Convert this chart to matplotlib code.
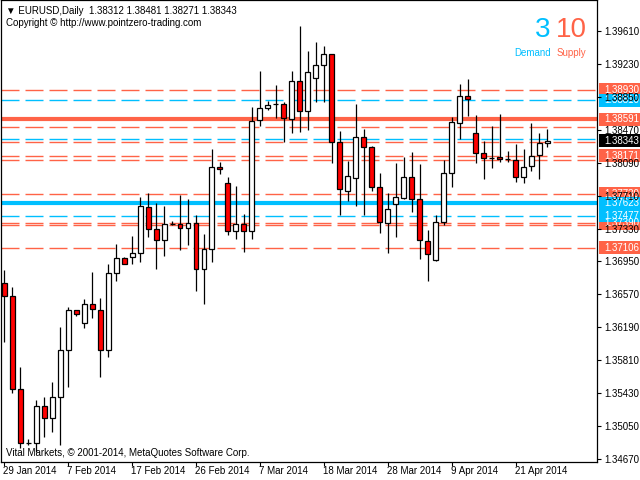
import matplotlib
matplotlib.use("Agg")
import matplotlib.pyplot as plt
from matplotlib.patches import Rectangle

plt.rcParams['font.family'] = ['Liberation Sans', 'DejaVu Sans']
plt.rcParams['lines.scale_dashes'] = False

# daily bars EURUSD, 29 Jan 2014 .. 25 Apr 2014
opens = [1.36698, 1.36555, 1.35475, 1.34851, 1.34851, 1.35278, 1.35140, 1.35382, 1.35925, 1.36387,
         1.36237, 1.36456, 1.36387, 1.35925, 1.36814, 1.36987, 1.37005, 1.37044, 1.37575, 1.37321,
         1.37195, 1.37379, 1.37379, 1.37333, 1.37391, 1.36860, 1.37091, 1.38037, 1.37852, 1.37302,
         1.37379, 1.37302, 1.38580, 1.38718, 1.38764, 1.38764, 1.38591, 1.39030, 1.38683, 1.39064,
         1.39214, 1.39341, 1.38326, 1.37767, 1.37910, 1.38383, 1.38268, 1.37806, 1.37400, 1.37610,
         1.37686, 1.37922, 1.37668, 1.37190, 1.36967, 1.37409, 1.37968, 1.38545, 1.38857, 1.38430,
         1.38199, 1.38148, 1.38152, 1.38129, 1.38118, 1.37922, 1.38049, 1.38176, 1.38312]
highs = [1.36852, 1.36652, 1.35729, 1.34905, 1.35351, 1.35382, 1.35556, 1.36190, 1.36421, 1.36395,
         1.36514, 1.36829, 1.36525, 1.36918, 1.37148, 1.36998, 1.37244, 1.37698, 1.37737, 1.37622,
         1.37587, 1.37414, 1.37714, 1.37668, 1.37487, 1.37267, 1.38245, 1.38102, 1.37922, 1.37821,
         1.37495, 1.38730, 1.39149, 1.38802, 1.38987, 1.38787, 1.39149, 1.39668, 1.39379, 1.39480,
         1.39434, 1.39341, 1.38456, 1.38113, 1.38764, 1.38476, 1.38283, 1.37968, 1.37737, 1.38083,
         1.38152, 1.38210, 1.38072, 1.37313, 1.37487, 1.38121, 1.38621, 1.38999, 1.39056, 1.38641,
         1.38341, 1.38510, 1.38649, 1.38225, 1.38306, 1.38245, 1.38545, 1.38436, 1.38481]
lows = [1.36024, 1.35429, 1.34794, 1.34832, 1.34751, 1.34928, 1.34985, 1.34832, 1.35505, 1.36324,
        1.36179, 1.36294, 1.35620, 1.35851, 1.36728, 1.36918, 1.36918, 1.36941, 1.37236, 1.36860,
        1.37017, 1.37368, 1.37079, 1.37140, 1.36609, 1.36456, 1.36941, 1.37963, 1.37256, 1.37206,
        1.37063, 1.37206, 1.38517, 1.38698, 1.38610, 1.38333, 1.38430, 1.38448, 1.38468, 1.38787,
        1.38787, 1.38090, 1.37487, 1.37652, 1.37594, 1.37487, 1.37760, 1.37282, 1.37051, 1.37236,
        1.37668, 1.37525, 1.36982, 1.36728, 1.36959, 1.37371, 1.37806, 1.38360, 1.38633, 1.38083,
        1.37905, 1.38032, 1.38102, 1.38098, 1.37871, 1.37852, 1.37998, 1.37905, 1.38271]
closes = [1.36555, 1.35475, 1.34858, 1.34851, 1.35285, 1.35140, 1.35382, 1.35925, 1.36387, 1.36340,
          1.36456, 1.36398, 1.35925, 1.36814, 1.36987, 1.36918, 1.37044, 1.37587, 1.37321, 1.37195,
          1.37379, 1.37379, 1.37333, 1.37391, 1.36860, 1.37091, 1.38037, 1.38014, 1.37302, 1.37379,
          1.37302, 1.38571, 1.38718, 1.38756, 1.38764, 1.38603, 1.39030, 1.38683, 1.39134, 1.39214,
          1.39341, 1.38326, 1.37783, 1.37933, 1.38383, 1.38268, 1.37813, 1.37409, 1.37552, 1.37691,
          1.37922, 1.37668, 1.37198, 1.37033, 1.37409, 1.37968, 1.38556, 1.38857, 1.38822, 1.38199,
          1.38144, 1.38148, 1.38129, 1.38129, 1.37922, 1.38044, 1.38164, 1.38314, 1.38343]

date_ticks = [0, 8, 16, 24, 32, 40, 48, 56, 64]
date_labels = ['29 Jan 2014', '7 Feb 2014', '17 Feb 2014', '26 Feb 2014', '7 Mar 2014',
               '18 Mar 2014', '28 Mar 2014', '9 Apr 2014', '21 Apr 2014']
price_ticks = [1.39610, 1.39230, 1.38850, 1.38470, 1.38090, 1.37710, 1.37330,
               1.36950, 1.36570, 1.36190, 1.35810, 1.35430, 1.35050, 1.34670]

# supply / demand zones
supply_dashed = [1.38930, 1.38505, 1.38324, 1.38171, 1.38116, 1.37730, 1.37390, 1.37370, 1.37106]
supply_strong = [1.38591]
demand_dashed = [1.38810, 1.38367, 1.37477]
demand_strong = [1.37623]
supply_labels = [1.38930, 1.38591, 1.38171, 1.37730, 1.37390, 1.37106]
demand_labels = [1.38810, 1.37623, 1.37477]
last_price = 1.38343

RED = '#FF6347'
BLUE = '#00BFFF'
px = 0.00011542  # price per pixel

fig = plt.figure(figsize=(6.4, 4.8), dpi=100)
ax = fig.add_axes([1 / 640, 18 / 480, 596 / 640, 462 / 480])
ax.set_xlim(-0.41, 74.2)
ax.set_ylim(1.34636, 1.39968)

for p in supply_dashed:
    ax.axhline(p, color=RED, lw=1.0, dashes=(12.96, 4.32), zorder=1)
for p in demand_dashed:
    ax.axhline(p, color=BLUE, lw=1.0, dashes=(12.96, 4.32), zorder=1)
for p in supply_strong:
    ax.axhline(p, color=RED, lw=3.0, zorder=1)
for p in demand_strong:
    ax.axhline(p, color=BLUE, lw=3.0, zorder=1)

# candles
for i in range(len(opens)):
    o, h, l, c = opens[i], highs[i], lows[i], closes[i]
    ax.vlines(i, l, h, color='black', lw=0.9, zorder=2)
    fc = 'white' if c >= o else '#FF0000'
    ax.bar(i, abs(c - o), bottom=min(o, c), width=0.62, color=fc,
           edgecolor='black', linewidth=0.9, zorder=3)

for s in ax.spines.values():
    s.set_linewidth(0.9)
    s.set_color('black')

ax.yaxis.tick_right()
ax.set_yticks(price_ticks)
ax.set_yticklabels(['%.5f' % t for t in price_ticks])
ax.tick_params(axis='y', direction='out', length=3, width=0.8, labelsize=7, pad=2)
ax.yaxis.set_zorder(6)

ax.set_xticks(date_ticks)
ax.set_xticklabels([])
ax.tick_params(axis='x', direction='out', length=3, width=0.8)
for t, lab in zip(date_ticks, date_labels):
    ax.annotate(lab, xy=(t, 0), xycoords=ax.get_xaxis_transform(),
                xytext=(-1, -9), textcoords='offset pixels',
                ha='left', va='center', fontsize=7, annotation_clip=False)

# price labels on the right scale
def price_box(p, color, text):
    ax.add_patch(Rectangle((1.0035, p - 6.5 * px), 0.07, 13 * px,
                           transform=ax.get_yaxis_transform(), facecolor=color,
                           edgecolor='none', clip_on=False, zorder=4))
    ax.annotate(text, xy=(1, p), xycoords=ax.get_yaxis_transform(),
                xytext=(7, 0), textcoords='offset pixels', ha='left', va='center',
                color='white', fontsize=7, zorder=5, annotation_clip=False)

for p in supply_labels:
    price_box(p, RED, '%.5f' % p)
for p in demand_labels:
    price_box(p, BLUE, '%.5f' % p)
price_box(last_price, 'black', '%.5f' % last_price)

# texts
fig.text(6 / 640, 1 - 11 / 480, '\u25bc EURUSD,Daily  %.5f %.5f %.5f %.5f'
         % (opens[-1], highs[-1], lows[-1], closes[-1]), fontsize=7, va='center')
fig.text(6 / 640, 1 - 23 / 480, 'Copyright \u00a9 http://www.pointzero-trading.com',
         fontsize=7, va='center')
fig.text(6 / 640, 1 - 453 / 480, 'Vital Markets, \u00a9 2001-2014, MetaQuotes Software Corp.',
         fontsize=7, va='center')
fig.text(543 / 640, 1 - 30 / 480, str(len(demand_strong + demand_dashed) - 1), color=BLUE,
         fontsize=20, ha='center', va='center')
fig.text(571 / 640, 1 - 30 / 480, str(len(supply_strong + supply_dashed)), color=RED,
         fontsize=20, ha='center', va='center')
fig.text(533 / 640, 1 - 53 / 480, 'Demand', color=BLUE, fontsize=7, ha='center', va='center')
fig.text(571 / 640, 1 - 53 / 480, 'Supply', color=RED, fontsize=7, ha='center', va='center')

fig.savefig('out.png', dpi=100)
